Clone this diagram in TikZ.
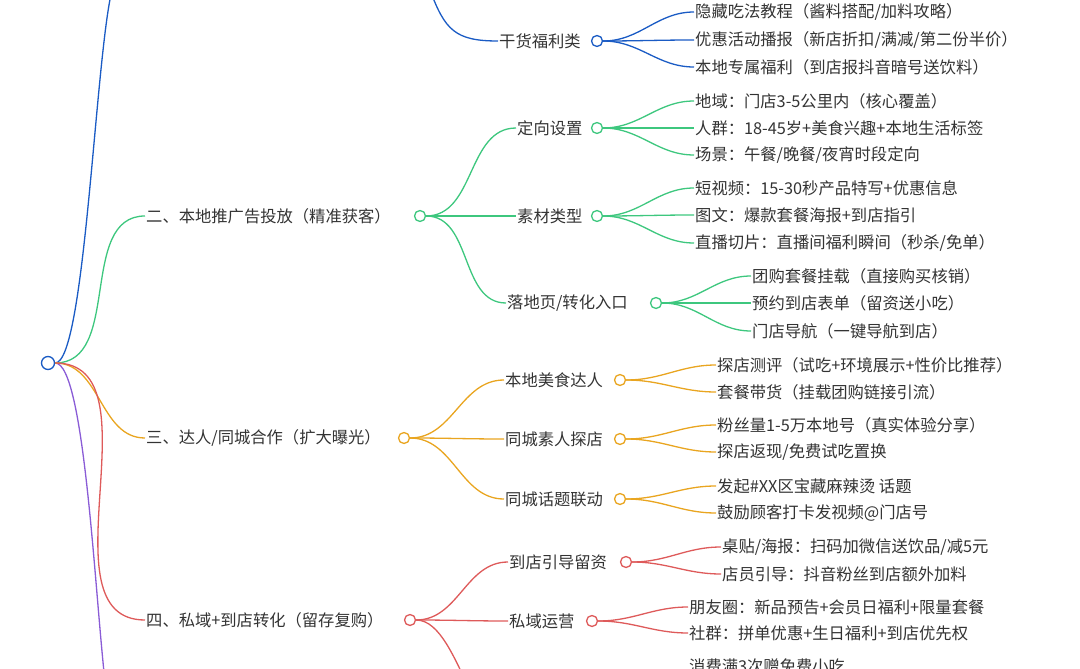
\documentclass[tikz,border=0pt]{standalone}
\usepackage{fontspec}
\setmainfont{Noto Sans CJK SC}
\begin{document}
\begin{tikzpicture}[x=1pt,y=-1pt,
  txt/.style={anchor=west,inner sep=1pt,font=\fontsize{16.3}{17}\selectfont,text=black!80},
  dot/.style={circle,draw=#1,fill=white,inner sep=0pt,minimum size=11pt,line width=1.3pt},
  ln/.style={draw=#1,line width=1.3pt}]
\definecolor{cb}{HTML}{1A5BC4}
\definecolor{cg}{HTML}{3DC77E}
\definecolor{co}{HTML}{E9A520}
\definecolor{cr}{HTML}{DE5A5A}
\definecolor{cp}{HTML}{8A5CD6}
\useasboundingbox (0,0) rectangle (1080,669);
\clip (0,0) rectangle (1080,669);
% root
\node[dot=cb,minimum size=13pt] (root) at (48,363) {};
\coordinate (topb) at (112,-10);
\coordinate (botp) at (106,690);
\coordinate (topc) at (430,-10);
\coordinate (botr) at (470,690);
\draw[ln=cb] (root.east) .. controls (85,363) and (95,60) .. (topb);
\draw[ln=cp] (root.east) .. controls (85,363) and (95,600) .. (botp);
% level 1
\node[txt] (n2) at (145,216) {二、本地推广告投放（精准获客）};
\node[txt] (n3) at (145,438) {三、达人/同城合作（扩大曝光）};
\node[txt] (n4) at (145,620) {四、私域+到店转化（留存复购）};
\draw[ln=cg] (root.east) to[out=0,in=180] (n2.west);
\draw[ln=co] (root.east) to[out=0,in=180] (n3.west);
\draw[ln=cr] (root.east) to[out=0,in=180] (n4.west);
% level 2
\node[txt] (g1) at (498,41) {干货福利类};
\node[txt] (g2) at (516,128) {定向设置};
\node[txt] (g3) at (516,216) {素材类型};
\node[txt] (g4) at (506,303) {落地页/转化入口};
\node[txt] (g5) at (504,380) {本地美食达人};
\node[txt] (g6) at (504,439) {同城素人探店};
\node[txt] (g7) at (504,499) {同城话题联动};
\node[txt] (g8) at (508,562) {到店引导留资};
\node[txt] (g9) at (508,621) {私域运营};
\draw[ln=cb] (topc) .. controls (445,30) and (455,41) .. (g1.west);
\node[dot=cg] (c2) at (420,216) {};
\node[dot=co] (c3) at (404,438) {};
\node[dot=cr] (c4) at (410,620) {};
\foreach \g in {g2,g3,g4} \draw[ln=cg] (c2.east) to[out=0,in=180] (\g.west);
\foreach \g in {g5,g6,g7} \draw[ln=co] (c3.east) to[out=0,in=180] (\g.west);
\foreach \g in {g8,g9} \draw[ln=cr] (c4.east) to[out=0,in=180] (\g.west);
\draw[ln=cr] (c4.east) .. controls (440,620) and (455,660) .. (botr);
% leaves
\node[txt] (l1) at (694,12) {隐藏吃法教程（酱料搭配/加料攻略）};
\node[txt] (l2) at (694,40) {优惠活动播报（新店折扣/满减/第二份半价）};
\node[txt] (l3) at (694,67) {本地专属福利（到店报抖音暗号送饮料）};
\node[txt] (l4) at (694,101) {地域：门店3-5公里内（核心覆盖）};
\node[txt] (l5) at (694,128) {人群：18-45岁+美食兴趣+本地生活标签};
\node[txt] (l6) at (694,155) {场景：午餐/晚餐/夜宵时段定向};
\node[txt] (l7) at (694,188) {短视频：15-30秒产品特写+优惠信息};
\node[txt] (l8) at (694,215) {图文：爆款套餐海报+到店指引};
\node[txt] (l9) at (694,243) {直播切片：直播间福利瞬间（秒杀/免单）};
\node[txt] (l10) at (751,276) {团购套餐挂载（直接购买核销）};
\node[txt] (l11) at (751,303) {预约到店表单（留资送小吃）};
\node[txt] (l12) at (751,331) {门店导航（一键导航到店）};
\node[txt] (l13) at (716,365) {探店测评（试吃+环境展示+性价比推荐）};
\node[txt] (l14) at (716,392) {套餐带货（挂载团购链接引流）};
\node[txt] (l15) at (716,425) {粉丝量1-5万本地号（真实体验分享）};
\node[txt] (l16) at (716,452) {探店返现/免费试吃置换};
\node[txt] (l17) at (716,486) {发起\#XX区宝藏麻辣烫 话题};
\node[txt] (l18) at (716,513) {鼓励顾客打卡发视频@门店号};
\node[txt] (l19) at (721,547) {桌贴/海报：扫码加微信送饮品/减5元};
\node[txt] (l20) at (721,574) {店员引导：抖音粉丝到店额外加料};
\node[txt] (l21) at (688,607) {朋友圈：新品预告+会员日福利+限量套餐};
\node[txt] (l22) at (688,633) {社群：拼单优惠+生日福利+到店优先权};
\node[txt] (l23) at (688,666) {消费满3次赠免费小吃};
\node[dot=cb] (d1) at (597,41) {};
\node[dot=cg] (d2) at (597,128) {};
\node[dot=cg] (d3) at (597,216) {};
\node[dot=cg] (d4) at (656,303) {};
\node[dot=co] (d5) at (620,380) {};
\node[dot=co] (d6) at (620,439) {};
\node[dot=co] (d7) at (620,499) {};
\node[dot=cr] (d8) at (626,562) {};
\node[dot=cr] (d9) at (592,621) {};
\foreach \l in {l1,l2,l3} \draw[ln=cb] (d1.east) to[out=0,in=180] (\l.west);
\foreach \l in {l4,l5,l6} \draw[ln=cg] (d2.east) to[out=0,in=180] (\l.west);
\foreach \l in {l7,l8,l9} \draw[ln=cg] (d3.east) to[out=0,in=180] (\l.west);
\foreach \l in {l10,l11,l12} \draw[ln=cg] (d4.east) to[out=0,in=180] (\l.west);
\foreach \l in {l13,l14} \draw[ln=co] (d5.east) to[out=0,in=180] (\l.west);
\foreach \l in {l15,l16} \draw[ln=co] (d6.east) to[out=0,in=180] (\l.west);
\foreach \l in {l17,l18} \draw[ln=co] (d7.east) to[out=0,in=180] (\l.west);
\foreach \l in {l19,l20} \draw[ln=cr] (d8.east) to[out=0,in=180] (\l.west);
\foreach \l in {l21,l22} \draw[ln=cr] (d9.east) to[out=0,in=180] (\l.west);
\end{tikzpicture}
\end{document}
